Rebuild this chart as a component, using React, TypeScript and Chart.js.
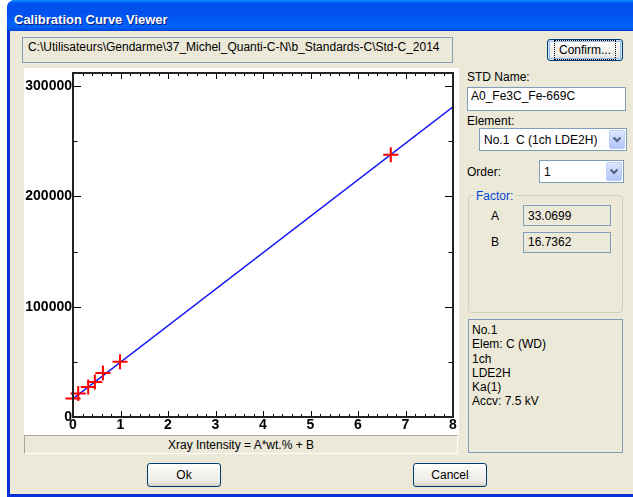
import React, { useEffect, useRef } from "react";
import { Chart, registerables } from "chart.js";

Chart.register(...registerables);

// ---- data ----
const stdX = [0, 0.11, 0.32, 0.46, 0.63, 0.99, 6.69];
const stdY = [16700, 21300, 27300, 31800, 40000, 50000, 237800];
const fitX = [0, 8];
const fitY = [16700, 281300];
const xTickValues = [0, 1, 2, 3, 4, 5, 6, 7, 8];
const yTickValues = [0, 100000, 200000, 300000];
const yMinorValues = [50000, 150000, 250000];
const xMinorStep = 0.2;
const xMin = 0;
const xMax = 8;
const yMin = 0;
const yMax = 312000;

const pathText = "C:\\Utilisateurs\\Gendarme\\37_Michel_Quanti-C-N\\b_Standards-C\\Std-C_2014";
const infoLines = ["No.1", "Elem: C (WD)", "1ch", "LDE2H", "Ka(1)", "Accv: 7.5 kV"];

const FONT = '"Liberation Sans", Arial, sans-serif';
const BG = "#ECE9D8";
const FIELD_BORDER = "#7F9DB9";

const frameTicks = {
  id: "frameTicks",
  afterDatasetsDraw(chart: any) {
    const { ctx, chartArea: a, scales } = chart;
    const xs = scales.x;
    const ys = scales.y;
    ctx.save();
    ctx.strokeStyle = "#000";
    ctx.lineWidth = 1;
    ctx.beginPath();
    const nMinor = Math.round((xMax - xMin) / xMinorStep);
    for (let i = 0; i <= nMinor; i++) {
      const v = xMin + i * xMinorStep;
      const major = Math.abs(v - Math.round(v)) < 1e-6;
      const px = Math.round(xs.getPixelForValue(v)) + 0.5;
      const len = major ? 6 : 3;
      ctx.moveTo(px, a.bottom);
      ctx.lineTo(px, a.bottom - len);
      ctx.moveTo(px, a.top);
      ctx.lineTo(px, a.top + len);
    }
    const yAll = [
      ...yTickValues.map((v) => [v, 8]),
      ...yMinorValues.map((v) => [v, 4.5]),
    ];
    for (const [v, len] of yAll) {
      const py = Math.round(ys.getPixelForValue(v)) + 0.5;
      ctx.moveTo(a.left, py);
      ctx.lineTo(a.left + len, py);
      ctx.moveTo(a.right, py);
      ctx.lineTo(a.right - len, py);
    }
    ctx.stroke();
    ctx.lineWidth = 2;
    ctx.strokeStyle = "#222";
    ctx.strokeRect(a.left, a.top, a.right - a.left, a.bottom - a.top);
    ctx.restore();
  },
};

function CalibChart() {
  const ref = useRef<HTMLCanvasElement | null>(null);
  useEffect(() => {
    if (!ref.current) return;
    const chart = new Chart(ref.current, {
      type: "scatter",
      data: {
        datasets: [
          {
            type: "line",
            label: "fit",
            data: fitX.map((x, i) => ({ x, y: fitY[i] })),
            borderColor: "#1515F5",
            borderWidth: 1.5,
            pointRadius: 0,
            fill: false,
            order: 2,
          } as any,
          {
            label: "standards",
            data: stdX.map((x, i) => ({ x, y: stdY[i] })),
            pointStyle: "cross",
            pointRadius: 7.5,
            pointBorderWidth: 2,
            borderColor: "#FF0000",
            backgroundColor: "#FF0000",
            clip: false,
            order: 1,
          } as any,
        ],
      },
      options: {
        responsive: false,
        animation: false,
        devicePixelRatio: 1,
        layout: { autoPadding: false, padding: { top: 5, right: 6, left: 0, bottom: 0 } },
        plugins: { legend: { display: false }, tooltip: { enabled: false } },
        scales: {
          x: {
            type: "linear",
            min: xMin,
            max: xMax,
            grid: { display: false, drawTicks: false },
            border: { display: false },
            afterBuildTicks: (s: any) => {
              s.ticks = xTickValues.map((v) => ({ value: v }));
            },
            afterFit: (s: any) => {
              s.height = 18;
              s.paddingLeft = 0;
              s.paddingRight = 0;
            },
            ticks: {
              padding: 0,
              color: "#000",
              font: { family: FONT, size: 14, weight: "bold" },
              maxRotation: 0,
              autoSkip: false,
              callback: (v: any) => String(v),
            },
          },
          y: {
            type: "linear",
            min: yMin,
            max: yMax,
            grid: { display: false, drawTicks: false },
            border: { display: false },
            afterBuildTicks: (s: any) => {
              s.ticks = yTickValues.map((v) => ({ value: v }));
            },
            afterFit: (s: any) => {
              s.width = 49;
              s.paddingTop = 0;
              s.paddingBottom = 0;
            },
            ticks: {
              padding: 1,
              color: "#000",
              font: { family: FONT, size: 14, weight: "bold" },
              autoSkip: false,
              callback: (v: any) => String(v),
            },
          },
        },
      },
      plugins: [frameTicks],
    });
    return () => chart.destroy();
  }, []);
  return <canvas ref={ref} width={435} height={367} style={{ display: "block" }} />;
}

const abs = (l: number, t: number, w: number, h: number): React.CSSProperties => ({
  position: "absolute",
  left: l,
  top: t,
  width: w,
  height: h,
  boxSizing: "border-box",
});

function Txt(props: { x: number; y: number; children: React.ReactNode; color?: string }) {
  return (
    <div
      style={{
        position: "absolute",
        left: props.x,
        top: props.y,
        fontFamily: FONT,
        fontSize: 12,
        lineHeight: "14px",
        color: props.color || "#000",
        whiteSpace: "nowrap",
      }}
    >
      {props.children}
    </div>
  );
}

function Button(props: { x: number; y: number; w: number; h: number; label: string; focused?: boolean }) {
  return (
    <div
      style={{
        ...abs(props.x, props.y, props.w, props.h),
        border: "1px solid #003C74",
        borderRadius: 3,
        background: "linear-gradient(180deg, #FFFFFF 0%, #F4F3EE 40%, #ECEBE6 80%, #D6D0C5 100%)",
        boxShadow: props.focused
          ? "inset 0 0 0 1px #CEE7FF, inset 0 0 0 2px #98B8EA"
          : "inset 0 -1px 0 #D6D0C5",
        display: "flex",
        alignItems: "center",
        justifyContent: "center",
        fontFamily: FONT,
        fontSize: 12,
        color: "#000",
      }}
    >
      {props.focused ? (
        <span style={{ outline: "1px dotted #000", outlineOffset: 2, padding: "0 2px" }}>{props.label}</span>
      ) : (
        props.label
      )}
    </div>
  );
}

function Combo(props: { x: number; y: number; w: number; h: number; text: string }) {
  return (
    <div style={{ ...abs(props.x, props.y, props.w, props.h), border: `1px solid ${FIELD_BORDER}`, background: "#fff" }}>
      <div
        style={{
          position: "absolute",
          left: 4,
          top: (props.h - 2 - 14) / 2,
          fontFamily: FONT,
          fontSize: 12,
          lineHeight: "14px",
          whiteSpace: "nowrap",
        }}
      >
        {props.text}
      </div>
      <div
        style={{
          position: "absolute",
          right: 1,
          top: 1,
          width: 16,
          height: props.h - 4,
          borderRadius: 2,
          border: "1px solid #B9CDF6",
          boxSizing: "border-box",
          background: "linear-gradient(180deg, #DCE6FD 0%, #C3D3FD 60%, #B3C7F7 100%)",
        }}
      >
        <svg width={14} height={props.h - 6} style={{ position: "absolute", left: 0, top: 0 }}>
          <polyline
            points={`3.5,${(props.h - 6) / 2 - 2} 7,${(props.h - 6) / 2 + 1.5} 10.5,${(props.h - 6) / 2 - 2}`}
            fill="none"
            stroke="#4D6185"
            strokeWidth={2}
          />
        </svg>
      </div>
    </div>
  );
}

export default function App() {
  return (
    <div style={{ position: "fixed", left: 0, top: 0, width: 633, height: 497, overflow: "hidden", background: "#fff" }}>
      {/* window frame */}
      <div
        style={{
          ...abs(7, 0, 640, 497),
          background: "#0831D9",
          borderTopLeftRadius: 8,
          borderTopRightRadius: 8,
          overflow: "hidden",
        }}
      >
        <div
          style={{
            ...abs(0, 0, 640, 31),
            background:
              "linear-gradient(180deg, #0997FF 0%, #0053EE 10%, #0050EE 40%, #0062F9 85%, #0058EE 93%, #003DD7 100%)",
          }}
        />
        <div style={{ ...abs(3, 31, 634, 463), background: BG }} />
      </div>
      <div
        style={{
          position: "absolute",
          left: 14,
          top: 12,
          fontFamily: FONT,
          fontWeight: "bold",
          fontSize: 13,
          lineHeight: "16px",
          color: "#fff",
          textShadow: "1px 1px 0 #0A1883",
          whiteSpace: "nowrap",
        }}
      >
        Calibration Curve Viewer
      </div>

      {/* path box */}
      <div style={{ ...abs(22, 37, 431, 26), border: `1px solid ${FIELD_BORDER}`, background: BG }} />
      <Txt x={28} y={40}>
        {pathText}
      </Txt>

      <Button x={547} y={39} w={76} h={22} label="Confirm..." focused />

      {/* chart area */}
      <div style={{ ...abs(24, 68, 435, 367), background: "#fff" }}>
        <CalibChart />
      </div>
      <div
        style={{
          ...abs(24, 435, 434, 19),
          background: BG,
          borderTop: "1px solid #ACA899",
          borderLeft: "1px solid #ACA899",
          borderBottom: "1px solid #fff",
          borderRight: "1px solid #fff",
          display: "flex",
          alignItems: "center",
          justifyContent: "center",
          fontFamily: FONT,
          fontSize: 12,
          color: "#000",
        }}
      >
        Xray Intensity = A*wt.% + B
      </div>

      {/* right panel */}
      <Txt x={467} y={70}>
        STD Name:
      </Txt>
      <div style={{ ...abs(467, 87, 159, 24), border: `1px solid ${FIELD_BORDER}`, background: "#fff" }} />
      <Txt x={471} y={89}>
        A0_Fe3C_Fe-669C
      </Txt>
      <Txt x={467} y={114}>
        Element:
      </Txt>
      <Combo x={479} y={128} w={148} h={23} text={"No.1\u00a0\u00a0C (1ch LDE2H)"} />
      <Txt x={467} y={165}>
        Order:
      </Txt>
      <Combo x={539} y={160} w={85} h={23} text="1" />

      {/* factor group */}
      <div style={{ ...abs(468, 195, 155, 118), border: "1px solid #D0D0BF", borderRadius: 4 }} />
      <div
        style={{
          position: "absolute",
          left: 474,
          top: 189,
          padding: "0 2px",
          background: BG,
          fontFamily: FONT,
          fontSize: 12,
          lineHeight: "14px",
          color: "#0046D5",
        }}
      >
        Factor:
      </div>
      <Txt x={491} y={209}>
        A
      </Txt>
      <div style={{ ...abs(523, 205, 88, 21), border: `1px solid ${FIELD_BORDER}`, background: BG }} />
      <Txt x={528} y={209}>
        33.0699
      </Txt>
      <Txt x={491} y={235}>
        B
      </Txt>
      <div style={{ ...abs(523, 232, 88, 21), border: `1px solid ${FIELD_BORDER}`, background: BG }} />
      <Txt x={528} y={235}>
        16.7362
      </Txt>

      {/* info box */}
      <div style={{ ...abs(468, 319, 155, 134), border: `1px solid ${FIELD_BORDER}`, background: BG }} />
      {infoLines.map((l, i) => (
        <Txt key={i} x={472} y={323 + i * 14.25}>
          {l}
        </Txt>
      ))}

      <Button x={147} y={463} w={74} h={24} label="Ok" />
      <Button x={413} y={463} w={74} h={24} label="Cancel" />
    </div>
  );
}
